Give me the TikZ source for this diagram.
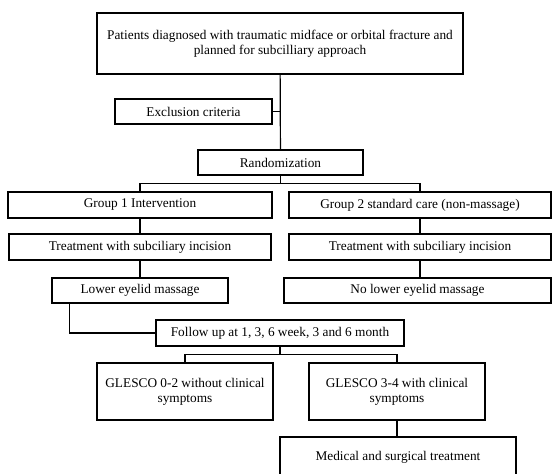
\documentclass[tikz,border=0pt]{standalone}
\usepackage{fontspec}
\setmainfont{Liberation Serif}
\usetikzlibrary{positioning}

\begin{document}
\begin{tikzpicture}
[
x=1pt, y=-1pt,
box-a/.style={draw, line width=1.2pt, inner sep=0pt, minimum height=26pt, align=center, font=\fontsize{13.3}{15}\selectfont},
box-b/.style={box-a, minimum height=57pt},
line-a/.style={line width=1.2pt}
]
\clip (0,0) rectangle (552,474);

\node (box-top)    [box-a, minimum width=366pt, minimum height=61pt] at (280,43.5)  {Patients diagnosed with traumatic midface or orbital fracture and\\planned for subcilliary approach};
\node (box-excl)   [box-a, minimum width=157pt, minimum height=25pt] at (193.5,111.5) {Exclusion criteria};
\node (box-rand)   [box-a, minimum width=165pt, minimum height=25pt] at (280.5,162.5) {Randomization};
\node (box-grp-1)  [box-a, minimum width=264pt]                      at (140,205)   {Group 1 Intervention};
\node (box-grp-2)  [box-a, minimum width=262pt]                      at (420,205)   {Group 2 standard care (non-massage)};
\node (box-trt-1)  [box-a, minimum width=262pt]                      at (140,247)   {Treatment with subciliary incision};
\node (box-trt-2)  [box-a, minimum width=262pt]                      at (420,247)   {Treatment with subciliary incision};
\node (box-mas-1)  [box-a, minimum width=176pt, minimum height=25pt] at (140,290.5) {Lower eyelid massage};
\node (box-mas-2)  [box-a, minimum width=267pt, minimum height=25pt] at (417.5,290.5) {No lower eyelid massage};
\node (box-fup)    [box-a, minimum width=248pt]                      at (280,333)   {Follow up at 1, 3, 6 week, 3 and 6 month};
\node (box-gl-1)   [box-b, minimum width=176pt]                      at (185,391.5) {GLESCO 0-2 without clinical\\symptoms};
\node (box-gl-2)   [box-b, minimum width=176pt]                      at (397,391.5) {GLESCO 3-4 with clinical\\symptoms};
\node (box-med)    [box-a, minimum width=236pt, minimum height=41pt] at (398,457.5) {Medical and surgical treatment};
\coordinate (mas-1-out) at ([xshift=18pt]box-mas-1.south west);

\draw [line-a] (box-top) -- (box-rand);
\draw [line-a] (box-excl.east) -- (box-excl.east -| box-top.south);
\draw [line-a] (box-rand.south) -- ++(0,8) -| (box-grp-1.north);
\draw [line-a] (box-rand.south) -- ++(0,8) -| (box-grp-2.north);
\draw [line-a] (box-grp-1) -- (box-trt-1);
\draw [line-a] (box-grp-2) -- (box-trt-2);
\draw [line-a] (box-trt-1) -- (box-mas-1);
\draw [line-a] (box-trt-2.south) -- (box-trt-2.south |- box-mas-2.north);
\draw [line-a] (mas-1-out) |- (box-fup.west);
\draw [line-a] (box-fup.south) -- ++(0,8) -| (box-gl-1.north);
\draw [line-a] (box-fup.south) -- ++(0,8) -| (box-gl-2.north);
\draw [line-a] (box-gl-2.south) -- (box-gl-2.south |- box-med.north);

\end{tikzpicture}
\end{document}
